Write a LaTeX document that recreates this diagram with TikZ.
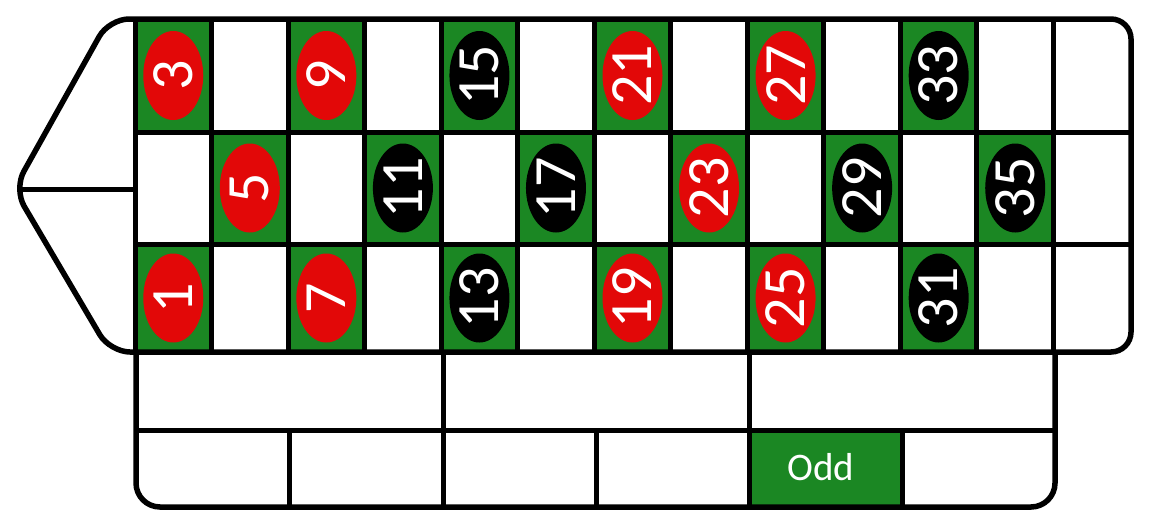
\documentclass[tikz,border=0pt]{standalone}
\usepackage{fontspec}
\setmainfont{Carlito}
\usetikzlibrary{shapes.geometric}
\definecolor{feltgreen}{RGB}{27,135,35}
\definecolor{chipred}{RGB}{226,8,8}
\begin{document}
\begin{tikzpicture}[x=1pt,y=-1pt,
  outline/.style={draw=black,line width=5.5pt},
  gridline/.style={draw=black,line width=5pt},
  numcell/.style={fill=feltgreen,draw=none,inner sep=0pt,minimum width=76.5pt},
  chip/.style={ellipse,draw=none,inner sep=0pt,minimum width=89pt,minimum height=60pt,rotate=90,text=white,font=\fontsize{60}{60}\selectfont},
  oddcell/.style={fill=feltgreen,draw=none,inner sep=0pt,minimum width=153pt,minimum height=77pt},
  oddtext/.style={text=white,inner sep=0pt,font=\fontsize{39}{39}\selectfont}]
\useasboundingbox (0,0) rectangle (1150,531);
\fill[white] (0,0) rectangle (1150,531);
% number cells
\foreach \n/\c/\yc/\h/\col in {
 3/0/75.5/113/chipred, 9/2/75.5/113/chipred, 15/4/75.5/113/black, 21/6/75.5/113/chipred, 27/8/75.5/113/chipred, 33/10/75.5/113/black,
 5/1/188/112/chipred, 11/3/188/112/black, 17/5/188/112/black, 23/7/188/112/chipred, 29/9/188/112/black, 35/11/188/112/black,
 1/0/298/108/chipred, 7/2/298/108/chipred, 13/4/298/108/black, 19/6/298/108/chipred, 25/8/298/108/chipred, 31/10/298/108/black}{
  \pgfmathsetmacro\xc{135+76.54*\c+38.27}
  \node[numcell,minimum height=\h pt] (cell\n) at (\xc,\yc) {};
  \node[chip,fill=\col] (chip\n) at (cell\n.center) {\n};
}
% Odd cell
\node[oddcell] (odd) at (825.5,468.5) {};
\node[oddtext] (oddlabel) at (821,467) {Odd};
% grid lines of main board
\foreach \i in {1,...,12}{
  \pgfmathsetmacro\xx{135+76.54*\i}
  \draw[gridline] (\xx,19) -- (\xx,352);
}
\draw[gridline] (135,19) -- (135,352);
\draw[gridline] (135,132) -- (1131,132);
\draw[gridline] (135,244) -- (1131,244);
% zero split
\coordinate (tip) at (17,189);
\coordinate (zl) at (135,189);
\draw[gridline] (tip) -- (zl);
% bottom section
\draw[gridline] (136,430) -- (1055,430);
\draw[gridline] (443,352) -- (443,507);
\draw[gridline] (749,352) -- (749,507);
\draw[gridline] (289,430) -- (289,507);
\draw[gridline] (596,430) -- (596,507);
\draw[gridline] (902,430) -- (902,507);
\draw[outline,rounded corners=24pt] (136,352) -- (136,507) -- (1055,507) -- (1055,352);
% outer outline
\draw[outline,rounded corners=20pt] (600,19) -- (1131,19) -- (1131,352) -- (110,352) -- (14,189) -- (109,19) -- cycle;
\end{tikzpicture}
\end{document}
